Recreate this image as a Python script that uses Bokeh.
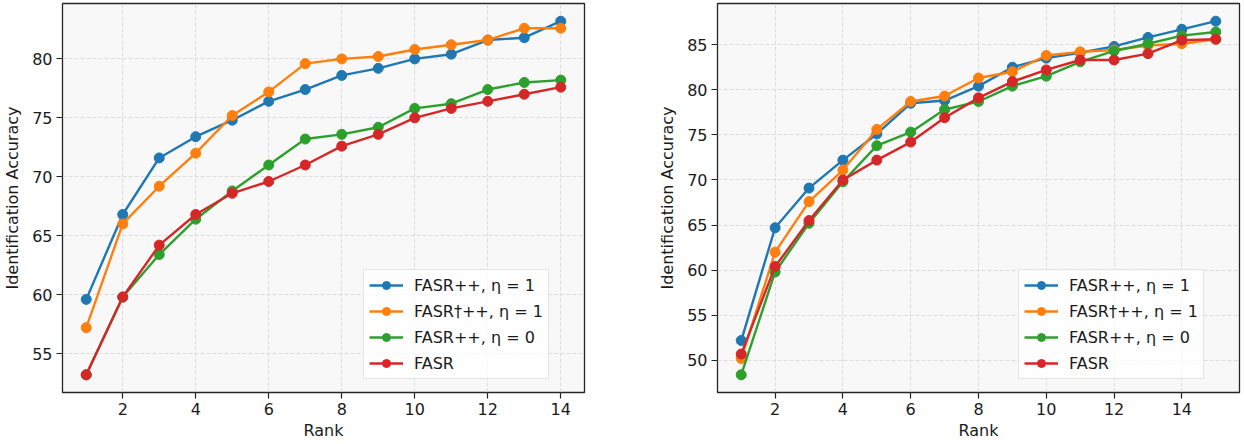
from bokeh.plotting import figure
from bokeh.layouts import row
from bokeh.models import FixedTicker, Range1d
from bokeh.embed import file_html
from bokeh.resources import INLINE

# ---------------- data ----------------
ranks_left = list(range(1, 15))
ranks_right = list(range(1, 16))

series_names = ["FASR++, η = 1", "FASR†++, η = 1", "FASR++, η = 0", "FASR"]
series_colors = ["#1f77b4", "#ff7f0e", "#2ca02c", "#d62728"]

left_fasrpp_eta1 = [59.6, 66.8, 71.6, 73.4, 74.8, 76.4, 77.4, 78.6, 79.2, 80.0, 80.4, 81.6, 81.8, 83.2]
left_fasrdpp_eta1 = [57.2, 66.0, 69.2, 72.0, 75.2, 77.2, 79.6, 80.0, 80.2, 80.8, 81.2, 81.6, 82.6, 82.6]
left_fasrpp_eta0 = [53.2, 59.8, 63.4, 66.4, 68.8, 71.0, 73.2, 73.6, 74.2, 75.8, 76.2, 77.4, 78.0, 78.2]
left_fasr = [53.2, 59.8, 64.2, 66.8, 68.6, 69.6, 71.0, 72.6, 73.6, 75.0, 75.8, 76.4, 77.0, 77.6]

right_fasrpp_eta1 = [52.2, 64.7, 69.1, 72.2, 75.1, 78.5, 78.8, 80.4, 82.5, 83.5, 84.1, 84.8, 85.8, 86.7, 87.6]
right_fasrdpp_eta1 = [50.2, 62.0, 67.6, 71.1, 75.6, 78.7, 79.3, 81.3, 82.0, 83.8, 84.2, 84.4, 84.9, 85.1, 85.6]
right_fasrpp_eta0 = [48.4, 59.8, 65.2, 69.8, 73.8, 75.3, 77.8, 78.7, 80.4, 81.5, 83.1, 84.3, 85.1, 86.0, 86.4]
right_fasr = [50.7, 60.4, 65.5, 70.0, 72.2, 74.2, 76.9, 79.1, 80.9, 82.2, 83.3, 83.3, 84.0, 85.5, 85.6]

x_ticks = [2, 4, 6, 8, 10, 12, 14]
left_y_ticks = [55, 60, 65, 70, 75, 80]
right_y_ticks = [50, 55, 60, 65, 70, 75, 80, 85]

FONT = "DejaVu Sans"
FS = "16px"


def padded(lo, hi, frac=0.05):
    d = (hi - lo) * frac
    return lo - d, hi + d


def make_panel(ranks, series, yticks, width, border_left, border_right):
    allv = [v for s in series for v in s]
    x0, x1 = padded(min(ranks), max(ranks))
    y0, y1 = padded(min(allv), max(allv))
    p = figure(width=width, height=444, output_backend="svg", toolbar_location=None,
               x_range=Range1d(x0, x1), y_range=Range1d(y0, y1),
               min_border_left=border_left, min_border_right=border_right,
               min_border_top=3, min_border_bottom=52)
    p.background_fill_color = "#f8f8f8"
    p.border_fill_color = "white"
    p.outline_line_color = "#262626"
    p.outline_line_width = 1.3
    p.outline_line_alpha = 1.0

    for vals, name, col in zip(series, series_names, series_colors):
        p.line(ranks, vals, line_color=col, line_width=2.4, legend_label=name)
        p.scatter(ranks, vals, marker="circle", size=10, fill_color=col, line_color=col,
                  legend_label=name)

    p.xaxis.ticker = FixedTicker(ticks=x_ticks)
    p.yaxis.ticker = FixedTicker(ticks=yticks)
    p.xaxis.axis_label = "Rank"
    p.yaxis.axis_label = "Identification Accuracy"
    for ax in (p.xaxis, p.yaxis):
        ax.axis_line_color = None
        ax.major_tick_line_color = "#222222"
        ax.major_tick_line_width = 1.2
        ax.major_tick_out = 6
        ax.major_tick_in = 0
        ax.minor_tick_line_color = None
        ax.major_label_text_font = FONT
        ax.major_label_text_font_size = FS
        ax.major_label_text_color = "#1a1a1a"
        ax.axis_label_text_font = FONT
        ax.axis_label_text_font_size = FS
        ax.axis_label_text_font_style = "normal"
        ax.axis_label_text_color = "#1a1a1a"
        ax.major_label_standoff = 4
    p.xaxis.axis_label_standoff = 3
    p.yaxis.axis_label_standoff = 7

    for g in (p.xgrid, p.ygrid):
        g.grid_line_color = "#dcdcdc"
        g.grid_line_width = 1
        g.grid_line_dash = "4 2"

    lg = p.legend[0]
    lg.location = (301, 13)
    lg.border_line_color = "#cccccc"
    lg.border_line_width = 1
    lg.background_fill_color = "white"
    lg.background_fill_alpha = 0.8
    lg.label_text_font = FONT
    lg.label_text_font_size = FS
    lg.label_text_color = "#1a1a1a"
    lg.glyph_width = 34
    lg.glyph_height = 20
    lg.label_height = 20
    lg.label_standoff = 11
    lg.spacing = 6
    lg.padding = 5
    lg.margin = 0
    return p


p1 = make_panel(ranks_left, [left_fasrpp_eta1, left_fasrdpp_eta1, left_fasrpp_eta0, left_fasr],
                left_y_ticks, 640, 61, 56)
p2 = make_panel(ranks_right, [right_fasrpp_eta1, right_fasrdpp_eta1, right_fasrpp_eta0, right_fasr],
                right_y_ticks, 604, 77, 5)

layout = row(p1, p2)
open("out.html", "w").write(file_html(layout, INLINE))
